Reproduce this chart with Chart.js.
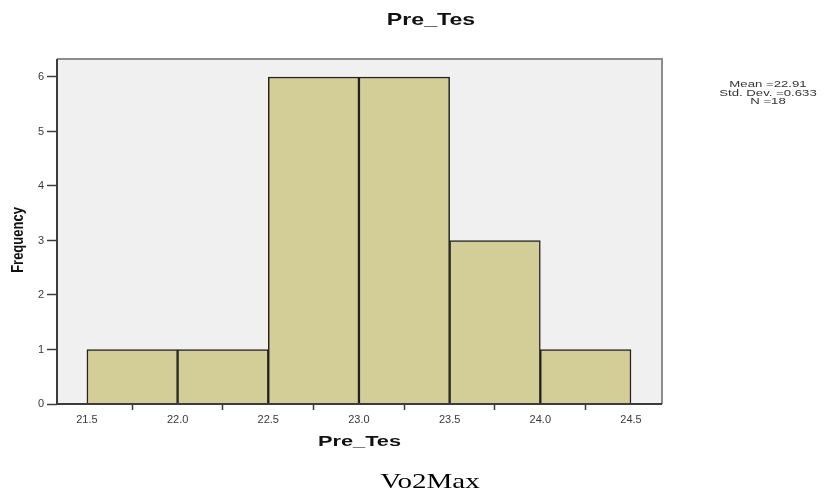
<!DOCTYPE html>
<html>
<head>
<meta charset="utf-8">
<script src="https://cdn.jsdelivr.net/npm/chart.js@4.4.1/dist/chart.umd.min.js"></script>
<style>
  html, body { margin: 0; padding: 0; background: #fff; }
  #wrap { width: 825px; height: 493px; }
</style>
</head>
<body>
<div id="wrap"><canvas id="histChart" width="825" height="493"></canvas></div>
<script>
// Data
const binCenters = [21.75, 22.25, 22.75, 23.25, 23.75, 24.25];
const frequencies = [1, 1, 6, 6, 3, 1];
const xTickValues = [21.5, 22.0, 22.5, 23.0, 23.5, 24.0, 24.5];
const yTickValues = [0, 1, 2, 3, 4, 5, 6];
const statLines = ['Mean =22.91', 'Std. Dev. =0.633', 'N =18'];
const chartTitle = 'Pre_Tes';
const xTitle = 'Pre_Tes';
const yTitle = 'Frequency';
const caption = 'Vo2Max';

const FONT = "'Liberation Sans', Arial, sans-serif";

// draw text a bit wider than normal, the source image is stretched sideways
function wideText(ctx, text, x, y, font, sx, color, rotate) {
    ctx.save();
    ctx.font = font;
    ctx.fillStyle = color;
    ctx.textAlign = 'center';
    ctx.textBaseline = 'middle';
    ctx.translate(x, y);
    if (rotate) {
        ctx.rotate(-Math.PI / 2);
        ctx.scale(1, sx);
    } else {
        ctx.scale(sx, 1);
    }
    ctx.fillText(text, 0, 0);
    ctx.restore();
}

// --- plot frame, background and texts ---
const spssLook = {
    id: 'spssLook',
    beforeDatasetsDraw(chart) {
        const { ctx, chartArea: a } = chart;
        ctx.save();
        ctx.fillStyle = '#f0f0f0';
        ctx.fillRect(a.left, a.top, a.right - a.left, a.bottom - a.top);
        ctx.restore();
    },
    afterDatasetsDraw(chart) {
        const { ctx, chartArea: a } = chart;
        ctx.save();
        // top + right border
        ctx.strokeStyle = '#8c8c8c';
        ctx.lineWidth = 2;
        ctx.beginPath();
        ctx.moveTo(a.left, a.top);
        ctx.lineTo(a.right, a.top);
        ctx.lineTo(a.right, a.bottom);
        ctx.stroke();
        // axes
        ctx.strokeStyle = '#3c3c3c';
        ctx.beginPath();
        ctx.moveTo(a.left, a.top);
        ctx.lineTo(a.left, a.bottom);
        ctx.lineTo(a.right, a.bottom);
        ctx.stroke();
        ctx.restore();
    },
    afterDraw(chart) {
        const { ctx, chartArea: a } = chart;
        const midX = (a.left + a.right) / 2;
        wideText(ctx, chartTitle, 431, 20, 'bold 17px ' + FONT, 1.36, '#111');
        wideText(ctx, xTitle, midX, 442, 'bold 15px ' + FONT, 1.45, '#111');
        wideText(ctx, yTitle, 18, 240, 'bold 13px ' + FONT, 1.3, '#111', true);
        statLines.forEach((line, i) => {
            wideText(ctx, line, 768, 85 + i * 8.5, '8.5px ' + FONT, 1.55, '#333');
        });
        wideText(ctx, caption, 430, 482, "22px 'Liberation Serif', 'Times New Roman', serif", 1.32, '#000');
    }
};

const ctx = document.getElementById('histChart').getContext('2d');
new Chart(ctx, {
    type: 'bar',
    data: {
        datasets: [{
            data: binCenters.map((x, i) => ({ x: x, y: frequencies[i] })),
            backgroundColor: '#d3cd97',
            borderColor: '#222',
            borderWidth: 1.5,
            barPercentage: 1,
            categoryPercentage: 1
        }]
    },
    options: {
        responsive: false,
        animation: false,
        layout: { padding: { left: 0, top: 59, right: 163, bottom: 0 } },
        plugins: {
            legend: { display: false },
            tooltip: { enabled: false }
        },
        scales: {
            x: {
                type: 'linear',
                offset: false,
                min: 21.335,
                max: 24.671,
                afterFit: (s) => { s.height = 89; },
                afterBuildTicks: (s) => { s.ticks = xTickValues.map(v => ({ value: v })); },
                ticks: {
                    callback: (v) => Number(v).toFixed(1),
                    color: '#3a3a3a',
                    font: { family: FONT, size: 11 },
                    padding: 3,
                    maxRotation: 0
                },
                grid: { drawOnChartArea: false, tickLength: 6, tickColor: '#3c3c3c', tickWidth: 1.5 },
                border: { display: false }
            },
            y: {
                min: 0,
                max: 6.33,
                afterFit: (s) => { s.width = 57; },
                afterBuildTicks: (s) => { s.ticks = yTickValues.map(v => ({ value: v })); },
                ticks: {
                    color: '#3a3a3a',
                    font: { family: FONT, size: 11 },
                    padding: 3
                },
                grid: { drawOnChartArea: false, tickLength: 10, tickColor: '#3c3c3c', tickWidth: 1.5 },
                border: { display: false }
            }
        }
    },
    plugins: [spssLook]
});
</script>
</body>
</html>
